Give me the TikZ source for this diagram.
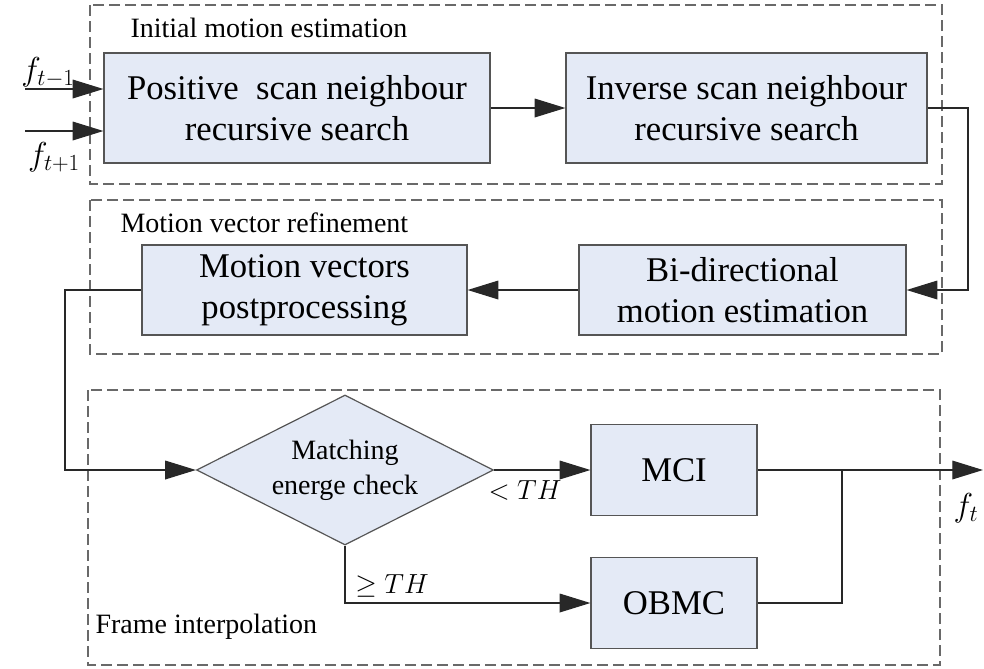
\documentclass[tikz,border=0pt]{standalone}
\usepackage{fontspec}
\setmainfont{Liberation Serif}
\usetikzlibrary{arrows.meta,shapes.geometric}

\definecolor{boxfill}{RGB}{228,234,246}
\definecolor{boxline}{RGB}{85,85,85}
\definecolor{grpline}{RGB}{105,105,105}
\definecolor{conline}{RGB}{40,40,40}

\tikzset{every picture/.style={line width=0.75pt}}
\tikzset{
  block/.style={draw=boxline, fill=boxfill, line width=0.9pt, inner sep=0pt,
    align=center, font=\fontsize{26}{31}\selectfont},
  decision/.style={diamond, aspect=2, draw=boxline, fill=boxfill, line width=0.9pt, inner sep=0pt,
    align=center, font=\fontsize{21}{26}\selectfont},
  group/.style={draw=grpline, line width=0.8pt, dash pattern=on 8pt off 4pt},
  grouplabel/.style={anchor=west, inner sep=0pt, font=\fontsize{21}{25}\selectfont},
  arr/.style={draw=conline, line width=0.9pt, -{Triangle[length=23pt,width=14pt]}},
  con/.style={draw=conline, line width=0.9pt}
}

\begin{document}
\begin{tikzpicture}[x=0.75pt,y=0.75pt,yscale=-1,xscale=1]
	\useasboundingbox (0,0) rectangle (984,668);

	%Shape: Group boxes
	\draw [group] (90,5) rectangle (942,184) ;
	\draw [group] (90,200) rectangle (942,354) ;
	\draw [group] (88,390) rectangle (940,665) ;

	% Text Node
	\node [grouplabel] (lblinit) at (130,28) {Initial motion estimation};
	% Text Node
	\node [grouplabel] (lblref) at (120,223) {Motion vector refinement};
	% Text Node
	\node [grouplabel] (lblfi) at (95,627) {Frame interpolation};

	%Shape: Rectangle
	\node [block, minimum width=289.5pt, minimum height=82.5pt] (pos) at (297,108)
		{Positive\ \ scan neighbour\\recursive search};
	%Shape: Rectangle
	\node [block, minimum width=270.75pt, minimum height=82.5pt] (inv) at (746.5,108)
		{Inverse scan neighbour\\recursive search};
	%Shape: Rectangle
	\node [block, minimum width=243.75pt, minimum height=67.5pt] (mvp) at (304.5,290)
		{Motion vectors\\postprocessing};
	%Shape: Rectangle
	\node [block, minimum width=245.25pt, minimum height=67.5pt] (bdme) at (742.5,290)
		{Bi-directional\\motion estimation};
	%Shape: Diamond
	\node [decision, minimum width=222.75pt, minimum height=112.5pt] (mec) at (345,470)
		{Matching\\energe check};
	%Shape: Rectangle
	\node [block, minimum width=124.5pt, minimum height=68.25pt] (mci) at (674,470) {MCI};
	%Shape: Rectangle
	\node [block, minimum width=124.5pt, minimum height=68.25pt] (obmc) at (674,603) {OBMC};

	%Coordinates
	\coordinate (in1) at (25,89) ;
	\coordinate (in2) at (25,131) ;
	\coordinate (rgt) at (968,0) ;
	\coordinate (lft) at (65,0) ;
	\coordinate (mrg) at (842,0) ;
	\coordinate (out) at (983,470) ;

	%Straight Lines
	\draw [arr] (in1) -- (in1 -| pos.west) ;
	\draw [arr] (in2) -- (in2 -| pos.west) ;
	\draw [arr] (pos.east) -- (inv.west) ;
	\draw [arr] (inv.east) -- (inv.east -| rgt) -- (bdme.east -| rgt) -- (bdme.east) ;
	\draw [arr] (bdme.west) -- (mvp.east) ;
	\draw [arr] (mvp.west) -- (mvp.west -| lft) -- (mec.west -| lft) -- (mec.west) ;
	\draw [arr] (mec.east) -- (mci.west) ;
	\draw [arr] (mec.south) |- (obmc.west) ;
	\draw [con] (mci.east) -- (mci.east -| mrg) ;
	\draw [con] (obmc.east) -- (obmc.east -| mrg) -- (mci.east -| mrg) ;
	\draw [arr] (mci.east -| mrg) -- (out) ;

	% Text Node
	\node [font=\fontsize{26}{30}\selectfont] (ftm) at (48,72) {$f_{t-1}$};
	% Text Node
	\node [font=\fontsize{26}{30}\selectfont] (ftp) at (54,157) {$f_{t+1}$};
	% Text Node
	\node [font=\fontsize{26}{30}\selectfont] (ft) at (966,508) {$f_{t}$};
	% Text Node
	\node [font=\fontsize{21}{25}\selectfont] (lt) at (525,490) {$<TH$};
	% Text Node
	\node [font=\fontsize{21}{25}\selectfont] (ge) at (392,586) {$\geq TH$};

\end{tikzpicture}
\end{document}
